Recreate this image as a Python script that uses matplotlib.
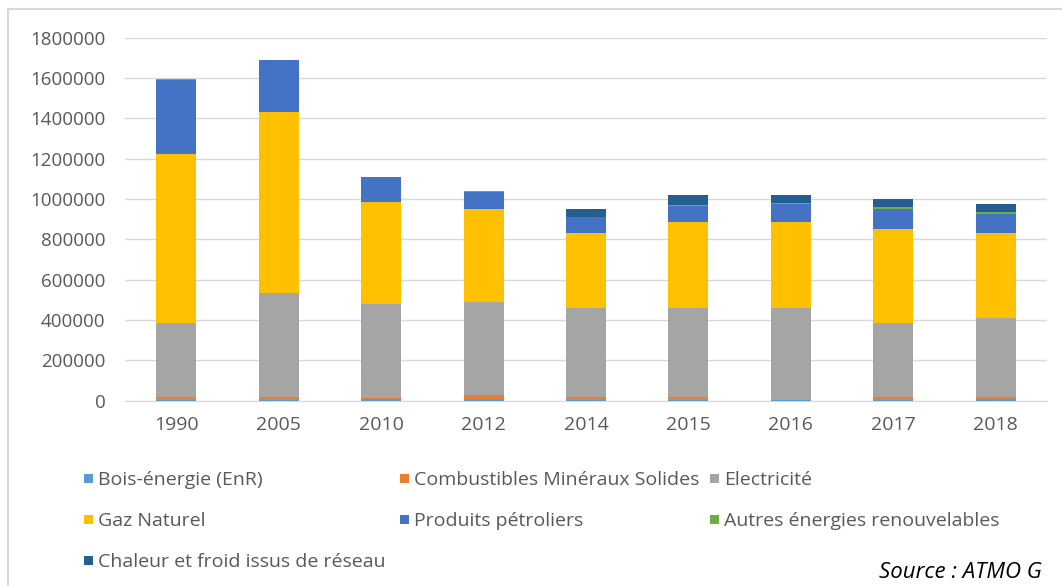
import matplotlib
matplotlib.use("Agg")
import matplotlib.pyplot as plt
from matplotlib.patches import Rectangle
import numpy as np

plt.rcParams['font.family'] = ['Open Sans', 'DejaVu Sans']

years = ["1990", "2005", "2010", "2012", "2014", "2015", "2016", "2017", "2018"]

# stacked from bottom to top
bois_energie = [3000, 3000, 5000, 8000, 3000, 3000, 2000, 4000, 5000]
combustibles = [15000, 12000, 8000, 20000, 12000, 12000, 0, 13000, 12000]
electricite = [368000, 517000, 466000, 462000, 442000, 442000, 458000, 366000, 391000]
gaz_naturel = [835000, 899000, 507000, 460000, 375000, 430000, 427000, 468000, 421000]
produits_petroliers = [370000, 257000, 122000, 84000, 78000, 78000, 87000, 97000, 95000]
autres_enr = [2000, 0, 2000, 5000, 2000, 5000, 6000, 10000, 9000]
chaleur_froid = [0, 0, 0, 0, 38000, 49000, 39000, 40000, 40000]

series = [
    ("Bois-énergie (EnR)", bois_energie, "#5B9BD5"),
    ("Combustibles Minéraux Solides", combustibles, "#ED7D31"),
    ("Electricité", electricite, "#A5A5A5"),
    ("Gaz Naturel", gaz_naturel, "#FFC000"),
    ("Produits pétroliers", produits_petroliers, "#4472C4"),
    ("Autres énergies renouvelables", autres_enr, "#70AD47"),
    ("Chaleur et froid issus de réseau", chaleur_froid, "#255E91"),
]

W, H = 1062, 586
fig = plt.figure(figsize=(W / 100, H / 100), dpi=100)
ax = fig.add_axes([125 / W, 1 - 400.5 / H, (1047 - 125) / W, (400.5 - 37.7) / H])

x = np.arange(len(years))
bottom = np.zeros(len(years))
for name, vals, col in series:
    vals = np.array(vals, dtype=float)
    ax.bar(x, vals, width=0.39, bottom=bottom, color=col, label=name, zorder=3)
    bottom += vals

ax.set_xlim(-0.5, len(years) - 0.5)
ax.set_ylim(0, 1800000)
ax.set_yticks(np.arange(0, 1800001, 200000))
ax.set_yticklabels([str(v) for v in range(0, 1800001, 200000)])
ax.set_xticks(x)
ax.set_xticklabels(years)
ax.grid(axis='y', color='#d9d9d9', linewidth=1, zorder=0)
for s in ['top', 'right', 'left']:
    ax.spines[s].set_visible(False)
ax.spines['bottom'].set_color('#d9d9d9')
ax.tick_params(axis='y', length=0, pad=14, labelsize=13.5, labelcolor='#595959')
ax.tick_params(axis='x', length=0, pad=11, labelsize=14, labelcolor='#595959')

# legend laid out row by row like Excel: 3 columns
col_x = [84, 400, 710]
row_y = [478, 519, 560]
for i, (name, vals, col) in enumerate(series):
    cx, cy = col_x[i % 3], row_y[i // 3]
    fig.patches.append(Rectangle((cx / W, 1 - (cy + 4.5) / H), 9 / W, 9 / H,
                                 transform=fig.transFigure, facecolor=col, edgecolor='none'))
    fig.text((cx + 14) / W, 1 - cy / H, name, fontsize=14, color='#595959',
             va='center_baseline', ha='left')

fig.text(879 / W, 1 - 578 / H, "Source : ATMO G", fontsize=16, style='italic',
         color='black', va='baseline', ha='left')

# outer chart frame
fig.patches.append(Rectangle((8 / W, -0.05), 1.2, 1.05 - 9 / H, transform=fig.transFigure,
                             fill=False, edgecolor='#d9d9d9', linewidth=1.5, clip_on=False))

fig.savefig("out.png", dpi=100)
